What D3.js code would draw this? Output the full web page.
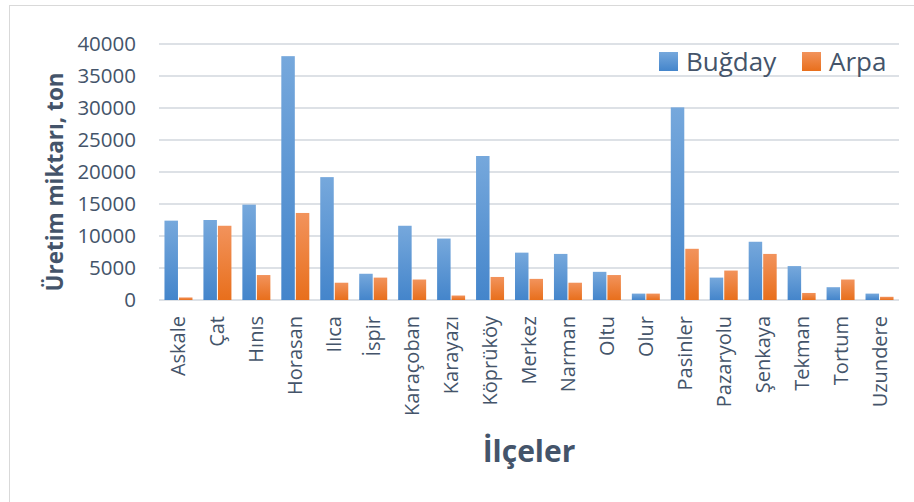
<!DOCTYPE html>
<html>
<head>
<meta charset="utf-8" />
<title>Buğday ve Arpa</title>
<style>
  body { margin: 0; background: #fff; }
  text { font-family: "Open Sans", sans-serif; fill: #44546a; }
</style>
</head>
<body>
<svg id="chart"></svg>
<script src="https://d3js.org/d3.v7.min.js"></script>
<script>

var ilceler = ["Askale", "Çat", "Hınıs", "Horasan", "Ilıca", "İspir", "Karaçoban", "Karayazı",
               "Köprüköy", "Merkez", "Narman", "Oltu", "Olur", "Pasinler", "Pazaryolu",
               "Şenkaya", "Tekman", "Tortum", "Uzundere"];
var bugday = [12400, 12500, 14900, 38100, 19200, 4100, 11600, 9600, 22500, 7400,
              7200, 4400, 1000, 30100, 3500, 9100, 5300, 2000, 1000];
var arpa = [400, 11600, 3900, 13600, 2700, 3500, 3200, 700, 3600, 3300,
            2700, 3900, 1000, 8000, 4600, 7200, 1100, 3200, 500];
var seriler = ["Buğday", "Arpa"];
var yTicks = [0, 5000, 10000, 15000, 20000, 25000, 30000, 35000, 40000];

var width = 914, height = 502;
var svg = d3.select("#chart").attr("width", width).attr("height", height);

// outer frame
svg.append("rect")
   .attr("x", 9.5).attr("y", 5.5)
   .attr("width", 920).attr("height", 520)
   .attr("fill", "none")
   .attr("stroke", "#d9d9d9");

var defs = svg.append("defs");
function grad(id, c_top, c_bottom){
  var g = defs.append("linearGradient").attr("id", id)
              .attr("x1", 0).attr("y1", 0).attr("x2", 0).attr("y2", 1);
  g.append("stop").attr("offset", "0%").attr("stop-color", c_top);
  g.append("stop").attr("offset", "100%").attr("stop-color", c_bottom);
}
grad("g0", "#76a8dc", "#4485cb");
grad("g1", "#f2935c", "#e86f1c");

var pLeft = 159, pRight = 899, pTop = 44, pBottom = 300;

var x = d3.scaleBand().domain(ilceler).range([pLeft, pRight]).paddingInner(0).paddingOuter(0);
var x1 = d3.scaleBand().domain(seriler).range([0, 28]).paddingInner(0.07);
var y = d3.scaleLinear().domain([0, 40000]).range([pBottom, pTop]);

// gridlines
svg.append("g").selectAll("line")
   .data(yTicks)
   .enter().append("line")
   .attr("x1", pLeft).attr("x2", pRight)
   .attr("y1", function(d){ return y(d); })
   .attr("y2", function(d){ return y(d); })
   .attr("stroke", "#dde1e6")
   .attr("stroke-width", 2);

// y tick labels
svg.append("g").selectAll("text")
   .data(yTicks)
   .enter().append("text")
   .attr("x", 136)
   .attr("y", function(d){ return y(d); })
   .attr("dy", "0.35em")
   .attr("text-anchor", "end")
   .attr("font-size", "20.5px")
   .text(function(d){ return d; });

// bars
var rows = ilceler.map(function(d, i){ return {ilce: d, vals: [bugday[i], arpa[i]]}; });
var grp = svg.append("g").selectAll("g")
   .data(rows)
   .enter().append("g")
   .attr("transform", function(d){ return "translate(" + (x(d.ilce) + (x.bandwidth() - 28) / 2) + ",0)"; });

grp.selectAll("rect")
   .data(function(d){ return d.vals.map(function(v, j){ return {key: seriler[j], v: v, j: j}; }); })
   .enter().append("rect")
   .attr("x", function(d){ return x1(d.key); })
   .attr("width", x1.bandwidth())
   .attr("y", function(d){ return y(d.v); })
   .attr("height", function(d){ return y(0) - y(d.v); })
   .attr("fill", function(d){ return "url(#g" + d.j + ")"; });

// x labels
svg.append("g").selectAll("text")
   .data(ilceler)
   .enter().append("text")
   .attr("transform", function(d){ return "translate(" + (x(d) + x.bandwidth() / 2) + ",316)rotate(-90)"; })
   .attr("text-anchor", "end")
   .attr("dy", "0.35em")
   .attr("font-size", "20px")
   .text(function(d){ return d; });

// axis titles
svg.append("text")
   .attr("transform", "translate(55,182)rotate(-90)")
   .attr("text-anchor", "middle")
   .attr("dy", "0.35em")
   .attr("font-size", "22.5px")
   .attr("font-weight", "bold")
   .text("Üretim miktarı, ton");

svg.append("text")
   .attr("x", 529).attr("y", 462)
   .attr("text-anchor", "middle")
   .attr("font-size", "30px")
   .attr("font-weight", "bold")
   .text("İlçeler");

// legend
var legX = [659, 802];
var leg = svg.append("g").selectAll("g")
   .data(seriler)
   .enter().append("g")
   .attr("transform", function(d, i){ return "translate(" + legX[i] + ",52)"; });
leg.append("rect")
   .attr("width", 19).attr("height", 19)
   .attr("fill", function(d, i){ return "url(#g" + i + ")"; });
leg.append("text")
   .attr("x", 27).attr("y", 10)
   .attr("dy", "0.35em")
   .attr("font-size", "26px")
   .text(function(d){ return d; });

</script>
</body>
</html>
